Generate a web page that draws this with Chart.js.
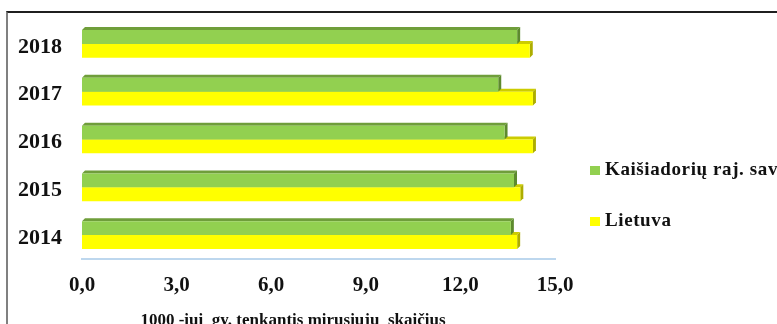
<!DOCTYPE html>
<html>
<head>
<meta charset="utf-8">
<title>Mirtingumas</title>
<style>
html, body { margin: 0; padding: 0; background: #fff; }
body { width: 777px; height: 324px; position: relative; overflow: hidden; font-family: "Liberation Serif", "Times New Roman", serif; }
.frame { position: absolute; left: 6px; top: 11px; width: 780px; height: 330px; border-top: 2px solid #1f1f1f; border-left: 2px solid #808080; }
#chart { position: absolute; left: 0; top: 0; }
.legend { position: absolute; left: 590px; font-weight: bold; font-size: 19px; color: #111; white-space: nowrap; letter-spacing: 0.6px; }
.legend span { display: inline-block; width: 10px; height: 9px; margin-right: 5px; }
</style>
</head>
<body>
<div class="frame"></div>
<canvas id="chart" width="777" height="324"></canvas>
<div class="legend" style="top:158px"><span style="background:#92d050"></span>Kaišiadorių raj. sav.</div>
<div class="legend" style="top:209px"><span style="background:#ffff00"></span>Lietuva</div>

<script src="https://cdn.jsdelivr.net/npm/chart.js"></script>
<script>
  const years = ['2018', '2017', '2016', '2015', '2014'];
  const kaisiadorys = [13.8, 13.2, 13.4, 13.7, 13.6];
  const lietuva = [14.2, 14.3, 14.3, 13.9, 13.8];
  const axisTitle = '1000 -iui  gy. tenkantis mirusiųjų  skaičius';

  const serif = '"Liberation Serif", "Times New Roman", serif';
  const depth = 3;

  // top and right faces of each bar, drawn before the front faces
  const bars3d = {
    id: 'bars3d',
    beforeDatasetsDraw(chart) {
      const ctx = chart.ctx;
      const shades = [
        { top: '#6f9e3a', side: '#5d8a2e' },
        { top: '#cccc00', side: '#adad00' }
      ];
      [1, 0].forEach(i => {
        chart.getDatasetMeta(i).data.forEach(bar => {
          const top = bar.y - bar.height / 2;
          const bottom = bar.y + bar.height / 2;
          ctx.save();
          ctx.fillStyle = shades[i].top;
          ctx.beginPath();
          ctx.moveTo(bar.base, top);
          ctx.lineTo(bar.x, top);
          ctx.lineTo(bar.x + depth, top - depth);
          ctx.lineTo(bar.base + depth, top - depth);
          ctx.closePath();
          ctx.fill();
          ctx.fillStyle = shades[i].side;
          ctx.beginPath();
          ctx.moveTo(bar.x, top);
          ctx.lineTo(bar.x + depth, top - depth);
          ctx.lineTo(bar.x + depth, bottom - depth);
          ctx.lineTo(bar.x, bottom);
          ctx.closePath();
          ctx.fill();
          ctx.restore();
        });
      });
    },
    afterDraw(chart) {
      const ctx = chart.ctx;
      ctx.save();
      ctx.font = 'bold 17px ' + serif;
      ctx.fillStyle = '#111';
      ctx.textAlign = 'center';
      ctx.textBaseline = 'alphabetic';
      ctx.fillText(axisTitle, chart.chartArea.left + 211, 325);
      ctx.restore();
    }
  };

  new Chart(document.getElementById('chart'), {
    type: 'bar',
    data: {
      labels: years,
      datasets: [
        { label: 'Kaišiadorių raj. sav.', data: kaisiadorys, backgroundColor: '#92d050', borderWidth: 0 },
        { label: 'Lietuva', data: lietuva, backgroundColor: '#ffff00', borderWidth: 0 }
      ]
    },
    options: {
      indexAxis: 'y',
      responsive: false,
      animation: false,
      events: [],
      layout: { padding: { top: 20, right: 222, left: 0, bottom: 0 } },
      datasets: { bar: { categoryPercentage: 0.58, barPercentage: 1 } },
      plugins: { legend: { display: false }, tooltip: { enabled: false } },
      scales: {
        x: {
          min: 0,
          max: 15,
          grid: { display: false, drawTicks: false },
          border: { color: '#bdd7ee', width: 2 },
          ticks: {
            stepSize: 3,
            padding: 14,
            color: '#111',
            font: { family: serif, size: 21, weight: 'bold' },
            callback: v => v.toFixed(1).replace('.', ',')
          },
          afterFit(scale) { scale.height = 65; }
        },
        y: {
          grid: { display: false, drawTicks: false },
          border: { display: false },
          ticks: {
            padding: 20,
            labelOffset: 3,
            color: '#111',
            font: { family: serif, size: 22, weight: 'bold' }
          },
          afterFit(scale) {
            scale.width = 82;
            scale.paddingTop = 0;
            scale.paddingBottom = 0;
          }
        }
      }
    },
    plugins: [bars3d]
  });
</script>
</body>
</html>
